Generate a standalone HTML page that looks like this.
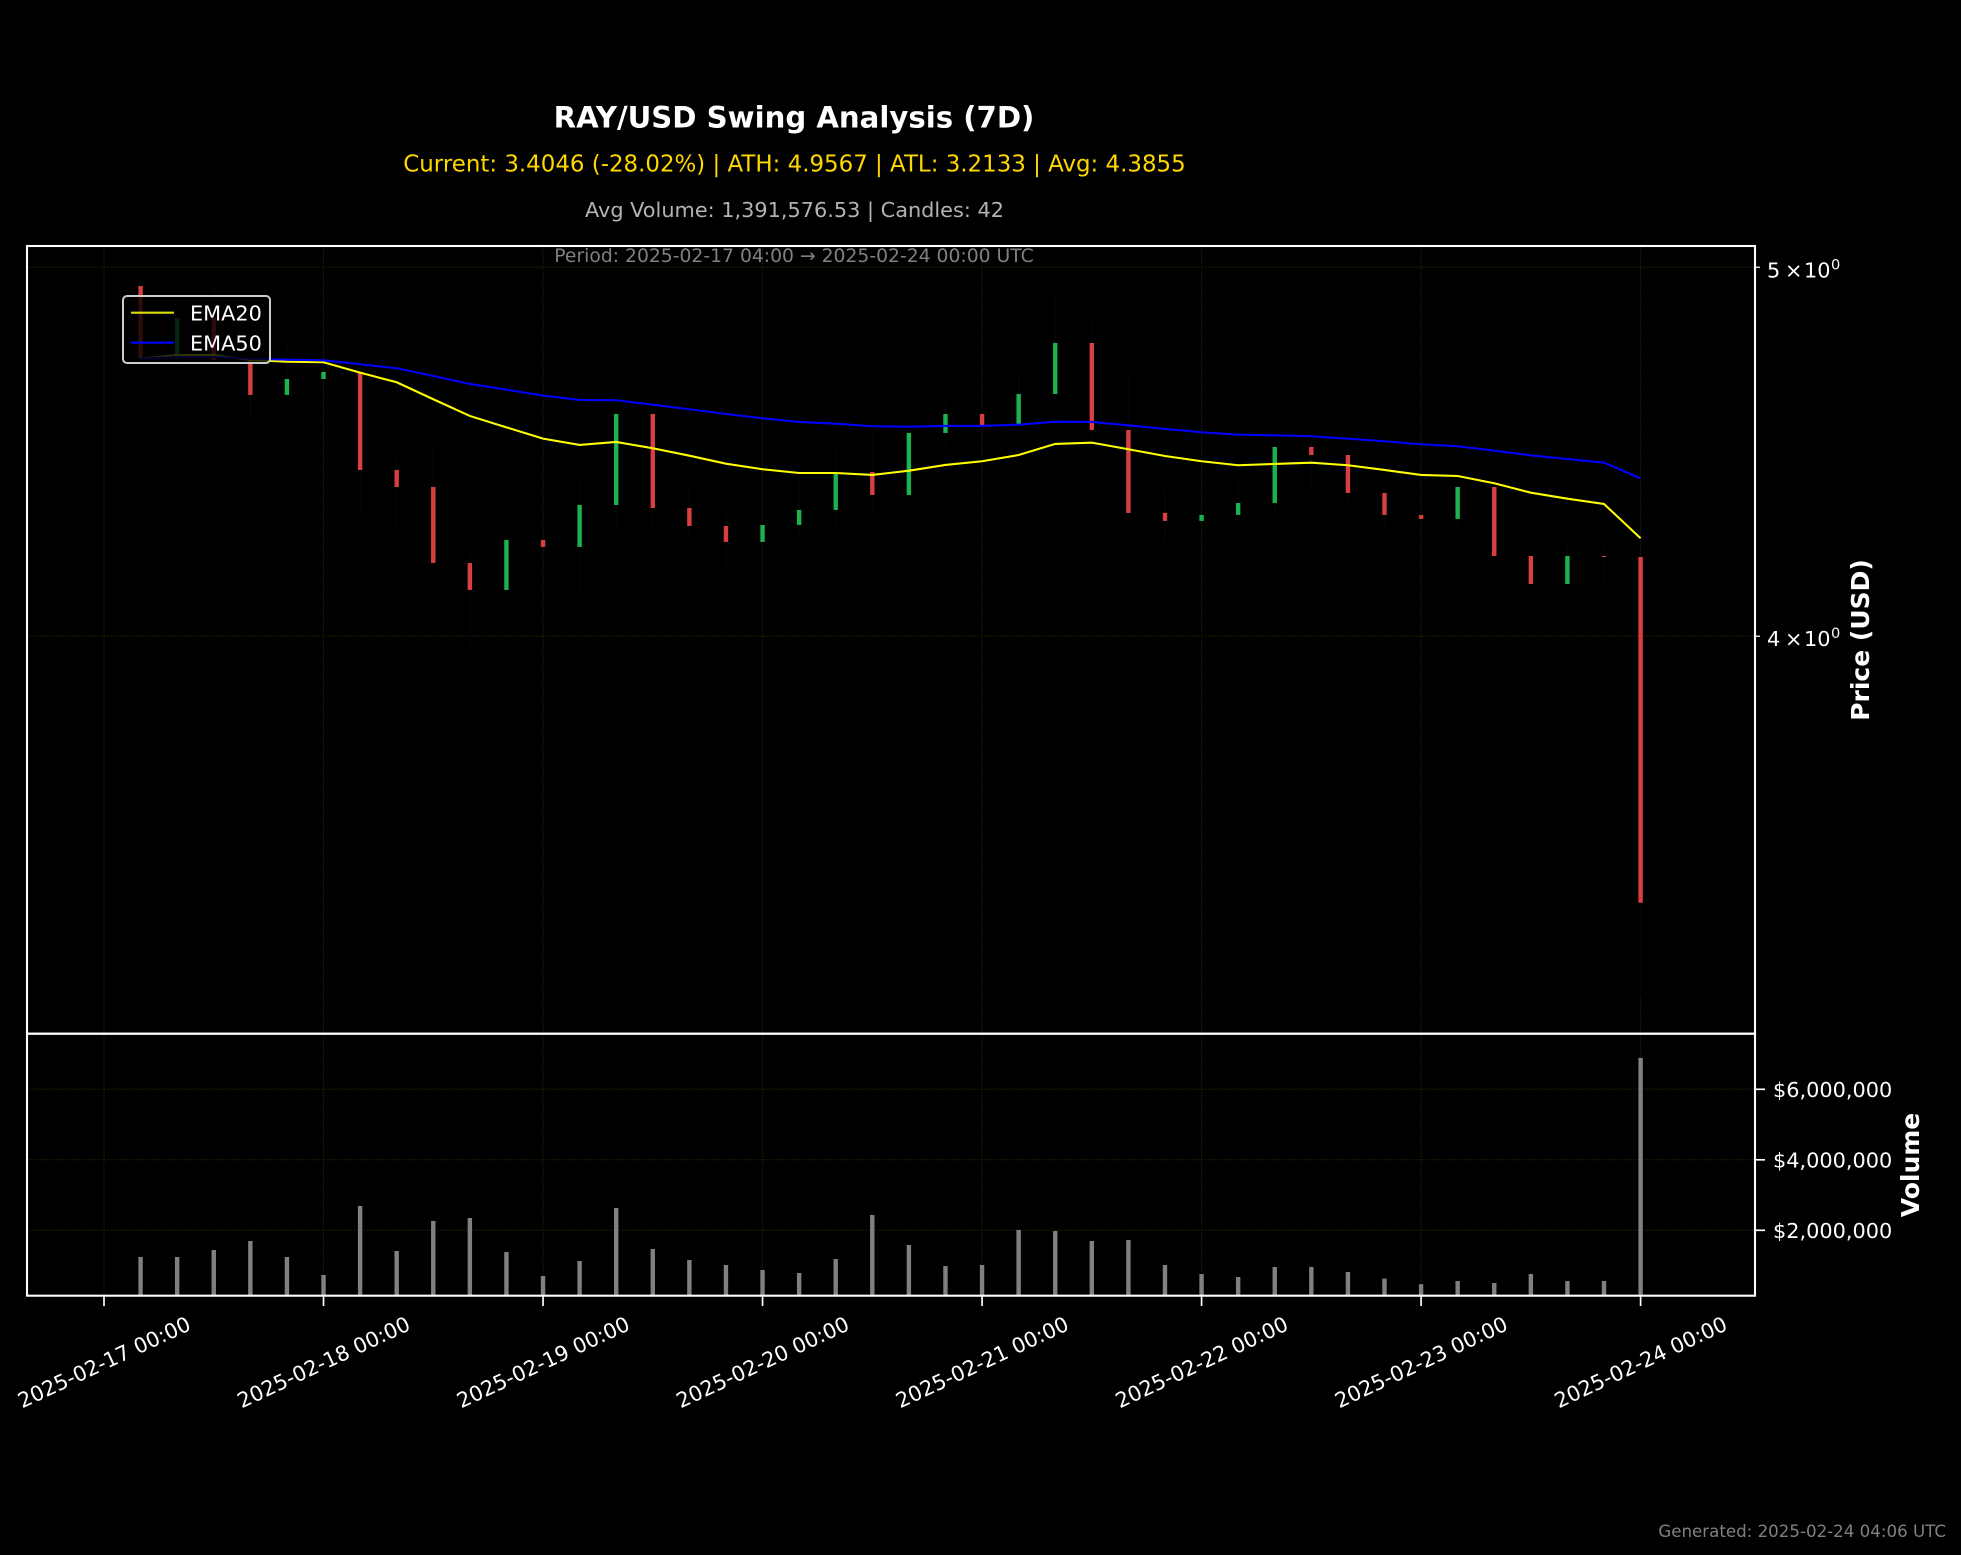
<!DOCTYPE html>
<html lang="en">
<head>
<meta charset="utf-8">
<title>RAY/USD Swing Analysis (7D)</title>
<style>
html,body{margin:0;padding:0;background:#000;width:1961px;height:1555px;overflow:hidden}
svg{display:block}
text{font-family:"DejaVu Sans",sans-serif}
</style>
</head>
<body>
<svg id="chart" xmlns="http://www.w3.org/2000/svg" width="1961" height="1555" viewBox="0 0 1961 1555">
  <rect x="0" y="0" width="1961" height="1555" fill="#000"/>
  <g id="grid"></g>
  <g id="wicks"></g>
  <g id="bodies"></g>
  <g id="volumes"></g>
  <g id="emas"></g>
  <g id="axes"></g>
  <text x="794" y="127.5" text-anchor="middle" font-size="29.17" font-weight="bold" fill="#fff">RAY/USD Swing Analysis (7D)</text>
  <text x="794.5" y="171.7" text-anchor="middle" font-size="22.92" fill="#ffd700">Current: 3.4046 (-28.02%) | ATH: 4.9567 | ATL: 3.2133 | Avg: 4.3855</text>
  <text x="794.5" y="217" text-anchor="middle" font-size="20.83" fill="#b3b3b3">Avg Volume: 1,391,576.53 | Candles: 42</text>
  <text x="794" y="262" text-anchor="middle" font-size="18.75" fill="#808080">Period: 2025-02-17 04:00 → 2025-02-24 00:00 UTC</text>
  <text transform="translate(1869 640) rotate(-90)" text-anchor="middle" font-size="25" font-weight="bold" fill="#fff">Price (USD)</text>
  <text transform="translate(1919 1165) rotate(-90)" text-anchor="middle" font-size="25" font-weight="bold" fill="#fff">Volume</text>
  <text x="1946" y="1537" text-anchor="end" font-size="16.67" fill="#808080">Generated: 2025-02-24 04:06 UTC</text>
  <g>
    <rect x="123" y="296" width="147" height="67" rx="4" ry="4" fill="#000" fill-opacity="0.8" stroke="#ccc" stroke-width="2"/>
    <line x1="131" x2="174" y1="312.7" y2="312.7" stroke="#ffff00" stroke-opacity="0.87" stroke-width="2.08"/>
    <text x="190" y="320.5" font-size="20.83" fill="#fff">EMA20</text>
    <line x1="131" x2="174" y1="342.7" y2="342.7" stroke="#0000ff" stroke-width="2.08"/>
    <text x="190" y="350.5" font-size="20.83" fill="#fff">EMA50</text>
  </g>
  <g id="spines"></g>
</svg>
<script>
// ---- data ----
var candleHours = [4,8,12,16,20,24,28,32,36,40,44,48,52,56,60,64,68,72,76,80,84,88,92,96,100,104,108,112,116,120,124,128,132,136,140,144,148,152,156,160,164,168];
var opens = [4.9438,4.7311,4.8490,4.7274,4.6284,4.6733,4.6932,4.4232,4.3779,4.1812,4.1136,4.2399,4.2220,4.3305,4.5755,4.3227,4.2759,4.2348,4.2785,4.3175,4.4178,4.3568,4.5232,4.5755,4.5443,4.6312,4.7763,4.5313,4.3097,4.2889,4.3045,4.3357,4.4851,4.4634,4.3621,4.3045,4.2941,4.3779,4.1989,4.1285,4.1989,4.1964];
var closes = [4.7311,4.8490,4.7274,4.6284,4.6733,4.6932,4.4232,4.3779,4.1812,4.1136,4.2399,4.2220,4.3305,4.5755,4.3227,4.2759,4.2348,4.2785,4.3175,4.4151,4.3568,4.5232,4.5755,4.5443,4.6312,4.7763,4.5313,4.3097,4.2889,4.3045,4.3357,4.4851,4.4634,4.3621,4.3045,4.2941,4.3779,4.1989,4.1285,4.1989,4.1964,3.4046];
var highs = [4.9567,4.8490,4.9438,4.7274,4.7800,4.6932,4.6932,4.4696,4.4824,4.2194,4.2578,4.2399,4.3911,4.5755,4.5755,4.3779,4.3097,4.2915,4.3911,4.4851,4.5396,4.5589,4.6228,4.5755,4.6847,4.9110,4.8520,4.6790,4.3700,4.3045,4.4017,4.5041,4.5041,4.4905,4.3621,4.3045,4.3779,4.3779,4.2603,4.2399,4.2272,4.1964];
var lows = [4.7311,4.6904,4.7274,4.5542,4.6284,4.6733,4.3045,4.2707,4.1812,3.9549,4.0937,4.2220,4.1062,4.2603,4.2603,4.2525,4.1686,4.2348,4.2525,4.2785,4.3175,4.3568,4.4688,4.5443,4.5443,4.6312,4.4960,4.3097,4.2348,4.2889,4.3045,4.3097,4.3779,4.3385,4.2603,4.2941,4.2578,4.1989,4.1285,4.1285,4.1311,3.2133];
var ema20 = [4.7311,4.7416,4.7416,4.7274,4.7225,4.7208,4.6912,4.6640,4.6164,4.5700,4.5387,4.5077,4.4906,4.4987,4.4816,4.4615,4.4400,4.4250,4.4151,4.4151,4.4098,4.4213,4.4366,4.4465,4.4634,4.4933,4.4968,4.4789,4.4607,4.4465,4.4358,4.4392,4.4427,4.4358,4.4232,4.4098,4.4071,4.3877,4.3628,4.3470,4.3331,4.2442];
var ema50 = [4.7311,4.7359,4.7359,4.7311,4.7282,4.7265,4.7151,4.7037,4.6818,4.6593,4.6433,4.6265,4.6144,4.6136,4.6012,4.5885,4.5755,4.5636,4.5534,4.5487,4.5416,4.5405,4.5424,4.5424,4.5460,4.5542,4.5534,4.5443,4.5342,4.5252,4.5186,4.5170,4.5142,4.5077,4.5006,4.4925,4.4870,4.4750,4.4626,4.4526,4.4427,4.4009];
var volumes = [1243000,1243000,1441000,1696000,1243000,732000,2689000,1413000,2264000,2349000,1384000,704000,1129000,2633000,1470000,1157000,1016000,874000,789000,1186000,2434000,1583000,987000,1016000,2009000,1980000,1696000,1724000,1016000,760000,675000,959000,959000,817000,630000,471000,562000,505000,760000,562000,562000,6890000];
var dayTickHours = [0,24,48,72,96,120,144,168];
var dayTickLabels = ['2025-02-17 00:00','2025-02-18 00:00','2025-02-19 00:00','2025-02-20 00:00','2025-02-21 00:00','2025-02-22 00:00','2025-02-23 00:00','2025-02-24 00:00'];
var priceTicks = [5,4];
var priceTickDigits = ['5','4'];
var volumeTicks = [2000000,4000000,6000000];
var volumeTickLabels = ['$2,000,000','$4,000,000','$6,000,000'];

// ---- axis functions ----
var PLOT = {left:27, right:1755, priceTop:246, priceBottom:1033.7, volTop:1033.7, volBottom:1295.7};
var PRICE_MIN = 3.1454, PRICE_MAX = 5.0656, VOL_MIN = 144680, VOL_MAX = 7577000;
function xAt(h){ return 104 + h * (1536.6 / 168); }
function yPrice(p){
  return 245.7 + (Math.log10(PRICE_MAX) - Math.log10(p)) / (Math.log10(PRICE_MAX) - Math.log10(PRICE_MIN)) * (1033.7 - 245.7);
}
function yVol(v){ return 1295.7 - (v - VOL_MIN) / (VOL_MAX - VOL_MIN) * (1295.7 - 1033.7); }

var NS = 'http://www.w3.org/2000/svg';
function make(parentId, tag, attrs, txt){
  var n = document.createElementNS(NS, tag);
  for (var k in attrs) n.setAttribute(k, attrs[k]);
  if (txt !== undefined) n.textContent = txt;
  document.getElementById(parentId).appendChild(n);
  return n;
}
var GRID = {stroke:'#1e1e00', 'stroke-width':1, 'stroke-dasharray':'2 1.2'};
function gridLine(x1,y1,x2,y2){
  return make('grid','line',{x1:x1,y1:y1,x2:x2,y2:y2,stroke:GRID.stroke,'stroke-width':GRID['stroke-width'],'stroke-dasharray':GRID['stroke-dasharray']});
}

// grid and ticks
dayTickHours.forEach(function(h,i){
  var x = xAt(h);
  var g1 = gridLine(x,PLOT.priceTop,x,PLOT.priceBottom);
  
  
  var g2 = gridLine(x,PLOT.volTop,x,PLOT.volBottom);
  
  
  var t = make('axes','line',{x1:x,x2:x,y1:PLOT.volBottom,y2:1306,stroke:'#fff','stroke-width':1.67});
  
  
  var lab = make('axes','text',{transform:'translate('+x+' 1362) rotate(-25)','text-anchor':'middle',y:7.5,'font-size':20.83,fill:'#fff'},dayTickLabels[i]);
  
  
});
priceTicks.forEach(function(p,i){
  var y = yPrice(p);
  var g = gridLine(PLOT.left,y,PLOT.right,y);
  
  
  var t = make('axes','line',{x1:PLOT.right,x2:1760,y1:y,y2:y,stroke:'#fff','stroke-width':1.25});
  
  
  var a = make('axes','text',{x:1767,y:y+10,'font-size':20.83,fill:'#fff'},priceTickDigits[i]);
  
  
  var b = make('axes','text',{x:1785,y:y+10,'font-size':20.83,fill:'#fff'},'×');
  
  
  var c = make('axes','text',{x:1804,y:y+10,'font-size':20.83,fill:'#fff'},'10');
  
  
  var d = make('axes','text',{x:1831,y:y+2,'font-size':14.6,fill:'#fff'},'0');
  
  
});
volumeTicks.forEach(function(v,i){
  var y = yVol(v);
  var g = gridLine(PLOT.left,y,PLOT.right,y);
  
  
  var t = make('axes','line',{x1:PLOT.right,x2:1765,y1:y,y2:y,stroke:'#fff','stroke-width':1.67});
  
  
  var l = make('axes','text',{x:1773,y:y+7.5,'font-size':20.83,fill:'#fff'},volumeTickLabels[i]);
  
  
});

// candles and volume bars
var BAR_W = 4.4;
candleHours.forEach(function(h,i){
  var x = xAt(h);
  var wick = make('wicks','line',{x1:x,x2:x,y1:yPrice(highs[i]),y2:yPrice(lows[i]),stroke:'#060606','stroke-width':1.25});
  
  
  var up = closes[i] >= opens[i];
  var top = yPrice(Math.max(opens[i],closes[i]));
  var bot = yPrice(Math.min(opens[i],closes[i]));
  var body = make('bodies','rect',{x:x-BAR_W/2,y:top,width:BAR_W,height:Math.max(bot-top,1),fill:up?'#1ab34f':'#d93f3f'});
  
  
  var vt = yVol(volumes[i]);
  var bar = make('volumes','rect',{x:x-BAR_W/2,y:vt,width:BAR_W,height:PLOT.volBottom-vt,fill:'#808080'});
  
  
});

// EMA lines
function pathFrom(values){
  return values.map(function(p,i){ return xAt(candleHours[i]).toFixed(2)+','+yPrice(p).toFixed(2); }).join(' ');
}
var line20 = make('emas','polyline',{points:pathFrom(ema20),fill:'none',stroke:'#ffff00','stroke-width':2.08});


var line50 = make('emas','polyline',{points:pathFrom(ema50),fill:'none',stroke:'#0000ff','stroke-width':2.08});



// spines
var frame1 = make('spines','rect',{x:PLOT.left,y:PLOT.priceTop,width:PLOT.right-PLOT.left,height:PLOT.priceBottom-PLOT.priceTop,fill:'none',stroke:'#fff','stroke-width':2.08});


var frame2 = make('spines','rect',{x:PLOT.left,y:PLOT.volTop,width:PLOT.right-PLOT.left,height:PLOT.volBottom-PLOT.volTop,fill:'none',stroke:'#fff','stroke-width':2.08});


</script>
</body>
</html>
